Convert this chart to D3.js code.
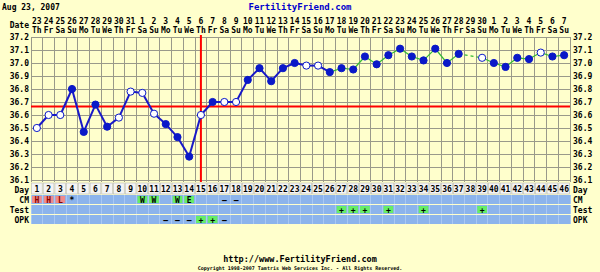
<!DOCTYPE html>
<html><head><meta charset="utf-8">
<script src="https://cdn.jsdelivr.net/npm/d3@7"></script>
<style>body{margin:0;background:#ffffcc}svg{display:block}text{font-family:"DejaVu Sans Mono",monospace;font-weight:bold}</style>
</head><body><svg id="c" width="600" height="272"></svg>
<script>
const days = d3.range(1, 47);
const dates = ["23","24","25","26","27","28","29","30","31","1","2","3","4","5","6","7","8","9","10","11","12","13","14","15","16","17","18","19","20","21","22","23","24","25","26","27","28","29","30","1","2","3","4","5","6","7"];
const weekdays = ["Th","Fr","Sa","Su","Mo","Tu","We"];
const temps = [36.50,36.60,36.60,36.80,36.47,36.68,36.51,36.58,36.78,36.77,36.61,36.53,36.43,36.28,36.60,36.70,36.70,36.70,36.87,36.96,36.86,36.96,37.00,36.98,36.98,36.93,36.96,36.95,37.05,36.99,37.06,37.11,37.05,37.02,37.11,37.00,37.07,null,37.04,37.00,36.97,37.04,37.03,37.08,37.05,37.06];
const openDays = [1,2,3,8,9,10,11,15,17,18,24,25,39,44];
const yTicks = [36.1,36.2,36.3,36.4,36.5,36.6,36.7,36.8,36.9,37.0,37.1,37.2];
const coverline = 36.665;
const ovulationDay = 15;
const greenFrom = 26;
const cmRow = [[1,"H","r"],[2,"H","r"],[3,"L","r"],[4,"*",""],[10,"W","g"],[11,"W","g"],[13,"W","g"],[14,"E","g"],[17,"\u2013",""],[18,"\u2013",""]];
const testRow = [[27,"+","g"],[28,"+","g"],[29,"+","g"],[31,"+","g"],[34,"+","g"],[39,"+","g"]];
const opkRow = [[12,"\u2013",""],[13,"\u2013",""],[14,"\u2013",""],[15,"+","g"],[16,"+","g"],[17,"\u2013",""]];

const svg = d3.select("#c");
const L = 31, R = 570, T = 37, B = 180;
const x = d3.scaleBand().domain(days).range([L, R]);
const y = d3.scaleLinear().domain([36.1, 37.2]).range([B, T]);
const cx = d => x(d) + x.bandwidth() / 2;

svg.append("rect").attr("width",600).attr("height",272).attr("fill","#ffffcc");

// titles
svg.append("text").attr("x",2).attr("y",10).attr("font-size",8).text("Aug 23, 2007");
svg.append("text").attr("x",300).attr("y",10).attr("text-anchor","middle").attr("font-size",9).attr("fill","#0000cc").text("FertilityFriend.com");

// header
svg.append("text").attr("x",29).attr("y",28).attr("text-anchor","end").attr("font-size",8).text("Date");
const hdr = svg.append("g");
hdr.selectAll(".dt").data(days).join("text").attr("x",cx).attr("y",24).attr("text-anchor","middle").attr("font-size",8).text((d,i)=>dates[i]);
hdr.selectAll(".wd").data(days).join("text").attr("x",cx).attr("y",33).attr("text-anchor","middle").attr("font-size",8).text((d,i)=>weekdays[i%7]);

// grid
const g = svg.append("g");
g.selectAll(".vl").data(d3.range(0,47)).join("line")
  .attr("x1",i=>L+i*x.bandwidth()).attr("x2",i=>L+i*x.bandwidth()).attr("y1",T).attr("y2",B+2)
  .attr("stroke","#9a9a8a").attr("stroke-width",1).attr("shape-rendering","crispEdges");
g.selectAll(".hl").data(yTicks).join("line")
  .attr("x1",L).attr("x2",R).attr("y1",d=>y(d)).attr("y2",d=>y(d))
  .attr("stroke","#9a9a8a").attr("stroke-width",1).attr("shape-rendering","crispEdges");

// y labels
const yl = svg.append("g");
yl.selectAll(".yl").data(yTicks).join("text").attr("x",29).attr("y",d=>y(d)+3).attr("text-anchor","end").attr("font-size",8).text(d=>d.toFixed(1));
yl.selectAll(".yr").data(yTicks).join("text").attr("x",573).attr("y",d=>y(d)+3).attr("font-size",8).text(d=>d.toFixed(1));

// coverline & ovulation
svg.append("line").attr("x1",L).attr("x2",R).attr("y1",y(coverline)).attr("y2",y(coverline)).attr("stroke","#ff0000").attr("stroke-width",2);
svg.append("line").attr("x1",cx(ovulationDay)).attr("x2",cx(ovulationDay)).attr("y1",T-2).attr("y2",B+2).attr("stroke","#ff0000").attr("stroke-width",2);

// lines
const pts = days.map((d,i)=>({d, t:temps[i]}));
const line = d3.line().x(p=>cx(p.d)).y(p=>y(p.t));
for (let i=0;i<pts.length-1;i++){
  const a = pts[i];
  if (a.t==null) continue;
  let j=i+1; while (j<pts.length && pts[j].t==null) j++;
  if (j>=pts.length) continue;
  const b = pts[j];
  const green = a.d >= greenFrom;
  svg.append("path").attr("d",line([a,b])).attr("fill","none")
    .attr("stroke", green ? "#33bb33" : "#1818c8").attr("stroke-width", green?1.2:2)
    .attr("stroke-dasharray", j>i+1 ? "3,3" : null);
}
svg.selectAll(".pt").data(pts.filter(p=>p.t!=null)).join("circle")
  .attr("cx",p=>cx(p.d)).attr("cy",p=>y(p.t)).attr("r",3.6)
  .attr("fill",p=>openDays.includes(p.d)?"#ffffff":"#0a18c8")
  .attr("stroke","#0a18c8").attr("stroke-width",1);

// bottom rows
const rows = [{name:"Day",y0:183,h:11},{name:"CM",y0:195,h:9},{name:"Test",y0:205,h:9},{name:"OPK",y0:215,h:9}];
rows.forEach((r,ri)=>{
  svg.append("text").attr("x",29).attr("y",r.y0+r.h-1.5).attr("text-anchor","end").attr("font-size",8).text(r.name);
  svg.append("text").attr("x",573).attr("y",r.y0+r.h-1.5).attr("font-size",8).text(r.name);
});
// day row
svg.selectAll(".dc").data(days).join("rect").attr("x",d=>x(d)+0.5).attr("y",183).attr("width",x.bandwidth()-1).attr("height",11)
  .attr("fill","#f4f4f4").attr("stroke","#b8b8b8").attr("stroke-width",0.6);
svg.selectAll(".dn").data(days).join("text").attr("x",cx).attr("y",192).attr("text-anchor","middle").attr("font-size",8).text(d=>d);

function drawRow(rowIdx, entries){
  const r = rows[rowIdx];
  svg.append("rect").attr("x",L).attr("y",r.y0).attr("width",R-L).attr("height",r.h).attr("fill","#8cb4ec");
  svg.append("g").selectAll("line").data(d3.range(0,47)).join("line")
    .attr("x1",i=>L+i*x.bandwidth()).attr("x2",i=>L+i*x.bandwidth()).attr("y1",r.y0).attr("y2",r.y0+r.h)
    .attr("stroke","#a8c8f4").attr("stroke-width",1).attr("shape-rendering","crispEdges");
  const em = new Map(entries.map(e=>[e[0],e]));
  svg.append("g").selectAll("rect").data(entries.filter(e=>e[2])).join("rect")
    .attr("x",e=>x(e[0])+1).attr("y",r.y0+1).attr("width",x.bandwidth()-2).attr("height",r.h-2)
    .attr("fill",e=>e[2]==="r"?"#f08a8a":"#66ee66");
  svg.append("g").selectAll("text").data(entries).join("text")
    .attr("x",e=>cx(e[0])).attr("y",r.y0+r.h-1.5).attr("text-anchor","middle").attr("font-size",8)
    .attr("fill",e=>e[2]==="r"?"#880000":"#000").text(e=>e[1]);
}
drawRow(1, cmRow);
drawRow(2, testRow);
drawRow(3, opkRow);

svg.append("text").attr("x",300).attr("y",262).attr("text-anchor","middle").attr("font-size",8.5).text("http://www.FertilityFriend.com");
svg.append("text").attr("x",300).attr("y",270).attr("text-anchor","middle").attr("font-size",5).attr("font-weight","normal").text("Copyright 1998-2007 Tamtris Web Services Inc. - All Rights Reserved.");
</script></body></html>
